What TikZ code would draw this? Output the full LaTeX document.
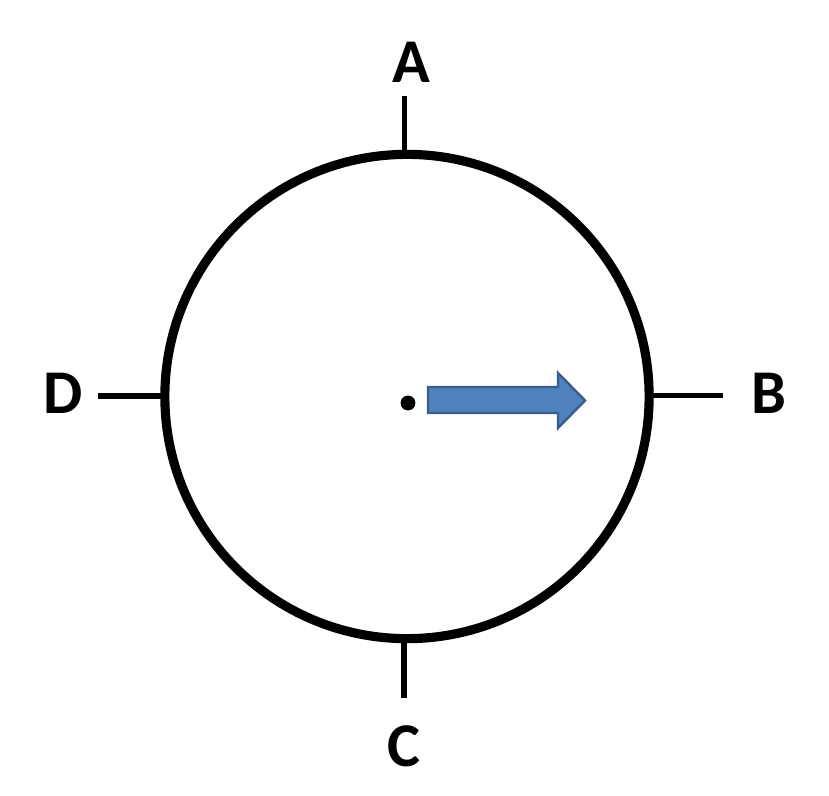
\documentclass[tikz,border=0pt]{standalone}
\usepackage{fontspec}
\setmainfont{Carlito}
\definecolor{arrowfill}{HTML}{4F81BD}
\definecolor{arrowline}{HTML}{385D8A}
\tikzset{
  ring/.style={draw=black, line width=2.6pt},
  tick/.style={draw=black, line width=1.45pt},
  lbl/.style={font=\fontsize{17.7}{20}\selectfont\bfseries, inner sep=0pt},
  bluearrow/.style={fill=arrowfill, draw=arrowline, line width=0.7pt, line join=miter},
}
\begin{document}
\begin{tikzpicture}[x=0.01cm,y=-0.01cm]
\useasboundingbox (0,0) rectangle (829,796);
\node[circle, ring, minimum size=4.84cm, inner sep=0pt] (c) at (407,396.5) {};
\coordinate (ta) at (404.5,96);
\coordinate (tb) at (723,395.5);
\coordinate (tc) at (404,698);
\coordinate (td) at (98,396);
\draw[tick] (ta) -- (404.5,156);
\draw[tick] (tb) -- (650,395.5);
\draw[tick] (tc) -- (404,637);
\draw[tick] (td) -- (164,396);
\node[lbl] (A) at (411,62.5) {A};
\node[lbl] (B) at (769,393) {B};
\node[lbl] (C) at (403.5,746.5) {C};
\node[lbl] (D) at (63.5,393) {D};
\node[draw=black, fill=black, line width=0.5pt, minimum size=0.13cm, inner sep=0pt, rounded corners=1.8pt] (dot) at (408,403) {};
\path[bluearrow] (428,387) -- (558,387) -- (558,373) -- (585,400.5) -- (558,428) -- (558,413) -- (428,413) -- cycle;
\end{tikzpicture}
\end{document}
